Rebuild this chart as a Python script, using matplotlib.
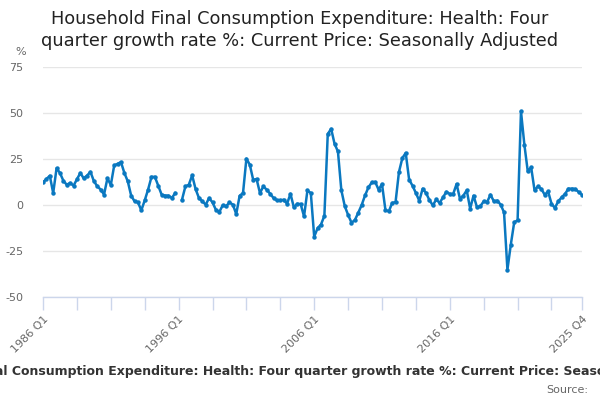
import numpy as np
import matplotlib
matplotlib.use("Agg")
import matplotlib.pyplot as plt

title = "Household Final Consumption Expenditure: Health: Four quarter growth rate %: Current Price: Seasonally Adjusted"
tick_labels = ["1986 Q1", "1996 Q1", "2006 Q1", "2016 Q1", "2025 Q4"]

values = [
    # 1986-1995
    12.3, 14.1, 15.9, 6.5, 20.0, 17.4, 13.2, 11.0, 12.0, 10.5,
    14.0, 17.4, 14.5, 16.0, 18.0, 13.0, 10.2, 8.4, 5.7, 14.5,
    10.9, 21.5, 22.4, 23.3, 17.4, 12.9, 5.1, 2.0, 1.5, -2.9,
    2.5, 8.4, 15.3, 15.3, 10.5, 5.6, 5.1, 5.1, 3.8, 6.5,
    # 1996-2005
    None, 2.9, 10.1, 11.0, 16.1, 8.7, 3.8, 2.0, 0.2, 3.8,
    1.4, -2.6, -3.8, -0.2, -0.7, 1.4, 0.2, -4.9, 5.0, 6.5,
    25.2, 21.9, 13.7, 14.1, 6.5, 10.1, 8.3, 6.1, 3.8, 2.5,
    2.5, 2.9, 0.7, 6.1, -1.3, 0.7, 0.5, -6.2, 7.9, 6.5,
    # 2006-2015
    -17.2, -12.6, -10.6, -5.9, 38.6, 41.4, 33.3, 29.1, 8.1, -0.5,
    -5.4, -9.6, -8.2, -4.2, 0.0, 5.2, 9.6, 12.3, 12.5, 8.3,
    11.4, -2.6, -3.5, 1.1, 1.6, 17.9, 25.5, 28.3, 13.8, 10.5,
    6.5, 2.3, 8.9, 6.5, 2.6, -0.2, 3.0, 1.1, 4.1, 7.2,
    # 2016-2025
    6.0, 6.0, 11.4, 3.4, 5.1, 8.0, -2.0, 5.1, -1.1, -0.7,
    2.0, 1.6, 5.6, 2.0, 2.4, 0.2, -4.0, -35.1, -21.5, -9.4,
    -8.3, 50.9, 32.8, 18.3, 20.5, 8.0, 10.1, 8.7, 5.6, 7.4,
    0.7, -1.6, 2.0, 4.2, 6.0, 8.9, 8.9, 8.7, 7.1, 5.6,
]

y = np.array([np.nan if v is None else v for v in values], dtype=float)
x = np.arange(len(y))

fig = plt.figure(figsize=(6, 4), dpi=100)
ax = fig.add_axes([0.0717, 0.2575, 0.8983, 0.575])

color = "#0a78c0"
ax.plot(x, y, color=color, lw=1.8, marker="o", ms=2.2, zorder=3)

ax.set_xlim(0, len(y) - 1)
ax.set_ylim(-50, 75)
ax.set_yticks([-50, -25, 0, 25, 50, 75])
ax.set_yticklabels(["-50", "-25", "0", "25", "50", "75"])
ax.grid(axis="y", color="#e6e6e6", lw=1, zorder=0)
ax.set_axisbelow(True)

for s in ["top", "right", "left"]:
    ax.spines[s].set_visible(False)
ax.spines["bottom"].set_color("#ccd6eb")
ax.spines["bottom"].set_linewidth(1)

major_pos = [0, 40, 80, 120, len(y) - 1]
minor_pos = [p for p in range(0, len(y), 10) if p not in major_pos]
ax.set_xticks(major_pos)
ax.set_xticklabels(tick_labels, rotation=45, ha="right", rotation_mode="anchor")
ax.set_xticks(minor_pos, minor=True)
ax.tick_params(axis="x", which="both", length=9, color="#ccd6eb", width=1,
               labelsize=8, labelcolor="#666666", pad=3)
ax.tick_params(axis="y", length=0, labelsize=8, labelcolor="#666666", pad=14)

fig.text(0.5, 0.975, "Household Final Consumption Expenditure: Health: Four\nquarter growth rate %: Current Price: Seasonally Adjusted",
         ha="center", va="top", fontsize=12.8, color="#222222", linespacing=1.3)
fig.text(0.025, 0.87, "%", fontsize=8, color="#666666", ha="left", va="center")

fig.text(0.5, 0.07, title, ha="center", va="center", fontsize=9, fontweight="bold", color="#333333")
fig.text(0.98, 0.025, "Source:", ha="right", va="center", fontsize=8, color="#666666")

fig.savefig("out.png", dpi=100)
